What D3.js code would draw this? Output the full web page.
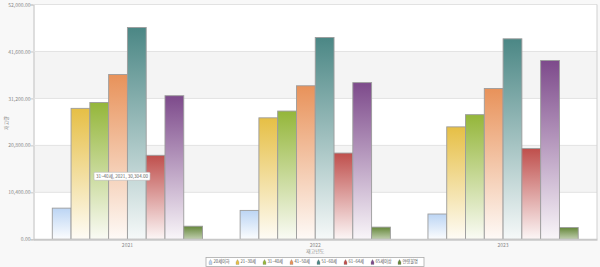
<!DOCTYPE html>
<html>
<head>
<meta charset="utf-8">
<script src="https://cdn.jsdelivr.net/npm/d3@7"></script>
<style>
  body { margin: 0; background: #f8f8f8; }
  svg { display: block; font-family: "Noto Sans CJK KR", "Noto Sans", sans-serif; }
</style>
</head>
<body>
<div id="chart"></div>
<script>
// chart data
const years = ["2021", "2022", "2023"];
const ageGroups = ["20세이하", "21~30세", "31~40세", "41~50세", "51~60세", "61~64세", "65세이상", "연령불명"];
const values2021 = [6900, 29000, 30304, 36500, 46900, 18600, 31800, 2900];
const values2022 = [6400, 26900, 28400, 34000, 44700, 19100, 34700, 2700];
const values2023 = [5600, 24900, 27600, 33400, 44400, 20100, 39600, 2600];
const yTicks = [0, 10400, 20800, 31200, 41600, 52000];
const colors = ["#bcd5f4", "#e6bf45", "#94b63a", "#e8925a", "#4b8785", "#bf4f4c", "#7d4a8b", "#65873a"];

const width = 600, height = 267;
const margin = {top: 4.5, right: 3, bottom: 27.7, left: 33.5};

const table = years.map((yr, i) => ({
  year: yr,
  values: [values2021, values2022, values2023][i]
}));

const svg = d3.select("#chart")
  .append("svg")
  .attr("width", width)
  .attr("height", height);

// gradients, one per age group
const defs = svg.append("defs");
colors.forEach((c, i) => {
  const g = defs.append("linearGradient")
    .attr("id", "grad" + i)
    .attr("x1", 0).attr("y1", 0).attr("x2", 0).attr("y2", 1);
  g.append("stop").attr("offset", "0%").attr("stop-color", c);
  g.append("stop").attr("offset", "100%")
    .attr("stop-color", d3.interpolateRgb(c, "#fff")(i === 7 ? 0.6 : 0.95));
});

const x0 = d3.scaleBand()
  .domain(years)
  .range([margin.left, width - margin.right])
  .paddingInner(0.2)
  .paddingOuter(0.1);

const x1 = d3.scaleBand()
  .domain(ageGroups)
  .range([0, x0.bandwidth()]);

const y = d3.scaleLinear()
  .domain([0, 52000])
  .range([height - margin.bottom, margin.top]);

// plot background + alternating bands
svg.append("rect")
  .attr("x", margin.left).attr("y", margin.top)
  .attr("width", width - margin.left - margin.right)
  .attr("height", y(0) - y(52000))
  .attr("fill", "#fff");

svg.selectAll(".band")
  .data([[10400, 20800], [31200, 41600]])
  .enter().append("rect")
  .attr("x", margin.left)
  .attr("y", d => y(d[1]))
  .attr("width", width - margin.left - margin.right)
  .attr("height", d => y(d[0]) - y(d[1]))
  .attr("fill", "#f4f4f4");

// y axis with grid lines
const yAxis = svg.append("g")
  .attr("transform", `translate(${margin.left},0)`)
  .call(d3.axisLeft(y)
    .tickValues(yTicks)
    .tickFormat(d3.format(",.2f"))
    .tickSizeOuter(0)
    .tickSize(3))
  .attr("font-size", "5px")
  .attr("font-family", null);
yAxis.select(".domain").attr("stroke", "#c8c8c8").attr("stroke-width", 1.2);
yAxis.selectAll(".tick line").attr("stroke", "#c8c8c8");
yAxis.selectAll(".tick text").attr("fill", "#888").attr("x", -3);

svg.append("g")
  .selectAll("line")
  .data(yTicks.slice(1))
  .enter().append("line")
  .attr("x1", margin.left).attr("x2", width - margin.right)
  .attr("y1", d => y(d)).attr("y2", d => y(d))
  .attr("stroke", "#e2e2e2");

// right border
svg.append("line")
  .attr("x1", width - margin.right).attr("x2", width - margin.right)
  .attr("y1", y(52000)).attr("y2", y(0))
  .attr("stroke", "#d0d0d0");

// bars
const groups = svg.selectAll(".yr")
  .data(table)
  .enter().append("g")
  .attr("transform", d => `translate(${x0(d.year)},0)`);

groups.selectAll("rect")
  .data(d => d.values.map((v, i) => ({age: ageGroups[i], value: v, idx: i})))
  .enter().append("rect")
  .attr("x", d => x1(d.age))
  .attr("y", d => y(d.value))
  .attr("width", x1.bandwidth())
  .attr("height", d => y(0) - y(d.value))
  .attr("fill", d => `url(#grad${d.idx})`)
  .attr("stroke", "#9c9c9c")
  .attr("stroke-width", 0.9);

// x axis
const xAxis = svg.append("g")
  .attr("transform", `translate(0,${y(0)})`)
  .call(d3.axisBottom(x0).tickSize(0).tickSizeOuter(0))
  .attr("font-size", "5px")
  .attr("font-family", null);
xAxis.select(".domain").attr("stroke", "#c8c8c8").attr("stroke-width", 2);
xAxis.selectAll(".tick text").attr("fill", "#888").attr("dy", "0.9em");

// axis titles
svg.append("text")
  .attr("x", (margin.left + width - margin.right) / 2)
  .attr("y", 253)
  .attr("text-anchor", "middle")
  .attr("font-size", "5px")
  .attr("fill", "#888")
  .text("재고년도");

svg.append("text")
  .attr("transform", "translate(8,123) rotate(-90)")
  .attr("text-anchor", "middle")
  .attr("font-size", "5px")
  .attr("fill", "#888")
  .text("재고량");

// legend
const legend = svg.append("g");
legend.append("rect")
  .attr("x", 206).attr("y", 257.5)
  .attr("width", 218).attr("height", 9)
  .attr("fill", "#fff")
  .attr("stroke", "#aaa")
  .attr("stroke-width", 0.8);

const item = legend.selectAll(".item")
  .data(ageGroups)
  .enter().append("g")
  .attr("transform", (d, i) => `translate(${209 + i * 27},262)`);

item.append("path")
  .attr("d", "M0,2.5 L0,0 L1.5,-2.5 L3,0 L3,2.5 Z")
  .attr("fill", (d, i) => colors[i])
  .attr("stroke", "#888")
  .attr("stroke-width", 0.3);

item.append("text")
  .attr("x", 4.5)
  .attr("dy", "0.35em")
  .attr("font-size", "4.2px")
  .attr("fill", "#555")
  .text(d => d);

// tooltip shown in the reference
const tip = svg.append("g").attr("transform", "translate(94,172.3)");
tip.append("rect")
  .attr("width", 56).attr("height", 8)
  .attr("rx", 1)
  .attr("fill", "#fff")
  .attr("stroke", "#bbb")
  .attr("stroke-width", 0.6);
tip.append("text")
  .attr("x", 28).attr("y", 4)
  .attr("dy", "0.35em")
  .attr("text-anchor", "middle")
  .attr("font-size", "4.6px")
  .attr("fill", "#666")
  .text(`${ageGroups[2]}, ${years[0]}, ${d3.format(",.2f")(values2021[2])}`);
</script>
</body>
</html>
